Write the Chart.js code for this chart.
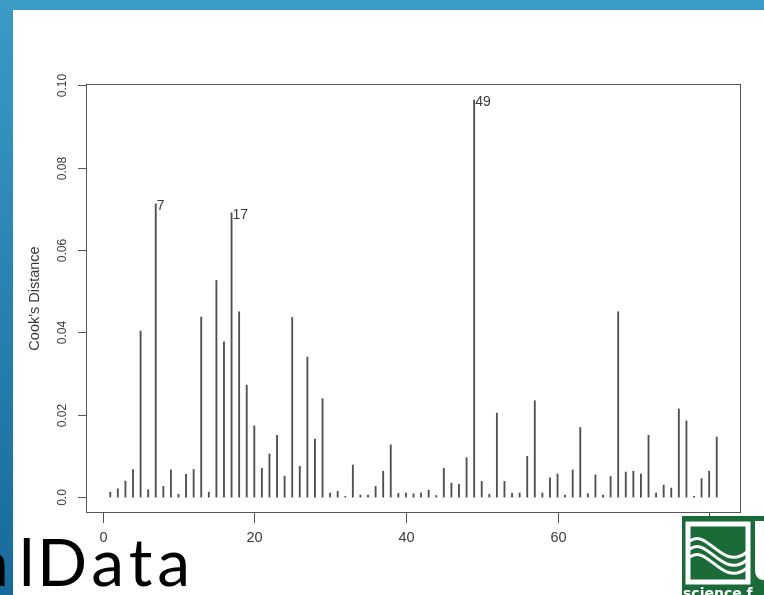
<!DOCTYPE html>
<html>
<head>
<meta charset="utf-8">
<script src="https://cdn.jsdelivr.net/npm/chart.js@4.4.1/dist/chart.umd.min.js"></script>
<style>
  html, body { margin: 0; padding: 0; background: #ffffff; }
  #wrap { position: relative; width: 764px; height: 595px; overflow: hidden; background: #ffffff; }
  #c { position: absolute; left: 0; top: 0; }
  #deco { position: absolute; left: 0; top: 0; pointer-events: none; }
</style>
</head>
<body>
<div id="wrap">
  <canvas id="c" width="764" height="595"></canvas>
  <svg id="deco" width="764" height="595" xmlns="http://www.w3.org/2000/svg">
    <defs>
      <linearGradient id="lg" x1="0" y1="0" x2="0" y2="1">
        <stop offset="0" stop-color="#3a9bc7"/>
        <stop offset="1" stop-color="#176a9c"/>
      </linearGradient>
    </defs>
    <rect x="0" y="0" width="764" height="10" fill="#3b9cc7"/>
    <rect x="0" y="0" width="13" height="595" fill="url(#lg)"/>
    <text y="586" font-family="Lato, 'Open Sans', sans-serif" font-weight="400" font-size="66" fill="#000"><tspan x="-24">a</tspan><tspan x="19">l </tspan><tspan x="37" letter-spacing="5">Data</tspan></text>
    <g>
      <rect x="682" y="516" width="82" height="79" fill="#1b6b38"/>
      <rect x="688" y="524" width="60" height="58" fill="none" stroke="#ffffff" stroke-width="5"/>
      <path d="M690,541 C708,528 722,572 747,552" fill="none" stroke="#ffffff" stroke-width="3"/>
      <path d="M690,549 C708,536 722,580 747,560" fill="none" stroke="#ffffff" stroke-width="3"/>
      <path d="M690,557 C708,544 722,588 747,568" fill="none" stroke="#ffffff" stroke-width="3"/>
      <path d="M755,521 L764,521 L764,580 L762,580 Q755,578 755,570 Z" fill="#ffffff"/>
      <text x="683" y="598" font-family="'DejaVu Sans', sans-serif" font-weight="bold" font-size="14" fill="#ffffff">science f</text>
    </g>
  </svg>
</div>
<script>
// ---- data ----
const cooksD = [
  0.0012, 0.0020, 0.0039, 0.0067, 0.0403, 0.0018, 0.0712, 0.0026, 0.0066, 0.0007,
  0.0055, 0.0067, 0.0437, 0.0012, 0.0526, 0.0377, 0.0690, 0.0450, 0.0272, 0.0173,
  0.0070, 0.0105, 0.0150, 0.0051, 0.0436, 0.0075, 0.0340, 0.0141, 0.0239, 0.0010,
  0.0014, 0.0002, 0.0078, 0.0005, 0.0005, 0.0026, 0.0063, 0.0127, 0.0009, 0.0010,
  0.0008, 0.0010, 0.0017, 0.0004, 0.0070, 0.0034, 0.0031, 0.0096, 0.0964, 0.0038,
  0.0007, 0.0204, 0.0038, 0.0009, 0.0010, 0.0099, 0.0234, 0.0010, 0.0047, 0.0056,
  0.0005, 0.0066, 0.0169, 0.0008, 0.0054, 0.0005, 0.0050, 0.0450, 0.0061, 0.0063,
  0.0056, 0.0150, 0.0010, 0.0029, 0.0022, 0.0214, 0.0185, 0.0002, 0.0045, 0.0063,
  0.0146
];
const obsNumber = Array.from({ length: cooksD.length }, (_, i) => i + 1);
const labelledObs = [7, 17, 49];
const xTicks = [0, 20, 40, 60, 80];
const xTickLabels = ["0", "20", "40", "60", "80"];
const yTicks = [0, 0.02, 0.04, 0.06, 0.08, 0.10];
const yTickLabels = ["0.0", "0.02", "0.04", "0.06", "0.08", "0.10"];
const yTitle = "Cook's Distance";

const points = obsNumber.map((n, i) => ({ x: n, y: cooksD[i] }));

const rAxes = {
  id: 'rAxes',
  afterDatasetsDraw(chart) {
    const ctx = chart.ctx;
    const xs = chart.scales.x, ys = chart.scales.y;
    const a = chart.chartArea;
    ctx.save();
    ctx.strokeStyle = '#555';
    ctx.lineWidth = 1;
    ctx.strokeRect(Math.round(a.left) + 0.5, Math.round(a.top) + 0.5,
                   Math.round(a.right - a.left) - 1, Math.round(a.bottom - a.top) - 1);
    ctx.fillStyle = '#3a3a3a';
    ctx.font = '12px "Liberation Sans", Arial, sans-serif';
    ctx.textAlign = 'center';
    ctx.textBaseline = 'middle';
    yTicks.forEach((v, i) => {
      const py = Math.round(ys.getPixelForValue(v)) + 0.5;
      ctx.beginPath();
      ctx.moveTo(a.left - 8, py);
      ctx.lineTo(a.left, py);
      ctx.stroke();
      ctx.save();
      ctx.translate(a.left - 23, py);
      ctx.rotate(-Math.PI / 2);
      ctx.fillText(yTickLabels[i], 0, 0);
      ctx.restore();
    });
    ctx.save();
    ctx.font = '14.5px "Liberation Sans", Arial, sans-serif';
    ctx.translate(35, (a.top + a.bottom) / 2);
    ctx.rotate(-Math.PI / 2);
    ctx.fillText(yTitle, 0, 0);
    ctx.restore();
    ctx.font = '14.5px "Liberation Sans", Arial, sans-serif';
    xTicks.forEach((v, i) => {
      const px = Math.round(xs.getPixelForValue(v)) + 0.5;
      ctx.beginPath();
      ctx.moveTo(px, a.bottom);
      ctx.lineTo(px, a.bottom + 10);
      ctx.stroke();
      ctx.fillText(xTickLabels[i], px, a.bottom + 25);
    });
    ctx.font = '14px "Liberation Sans", Arial, sans-serif';
    ctx.textAlign = 'left';
    labelledObs.forEach(n => {
      const px = xs.getPixelForValue(n);
      const py = ys.getPixelForValue(cooksD[n - 1]);
      ctx.fillText(String(n), px + 1, py + 2);
    });
    ctx.restore();
  }
};

new Chart(document.getElementById('c'), {
  type: 'bar',
  data: {
    datasets: [{
      data: points,
      backgroundColor: '#505050',
      borderWidth: 0,
      barThickness: 1.2
    }]
  },
  options: {
    responsive: false,
    devicePixelRatio: 1,
    animation: false,
    layout: { padding: { left: 86, top: 84, right: 23, bottom: 82 } },
    plugins: { legend: { display: false }, tooltip: { enabled: false } },
    scales: {
      x: { type: 'linear', min: -2.2, max: 84.2, offset: false, display: false, grid: { offset: false } },
      y: { type: 'linear', min: -0.00386, max: 0.1003, display: false }
    }
  },
  plugins: [rAxes]
});
</script>
</body>
</html>
